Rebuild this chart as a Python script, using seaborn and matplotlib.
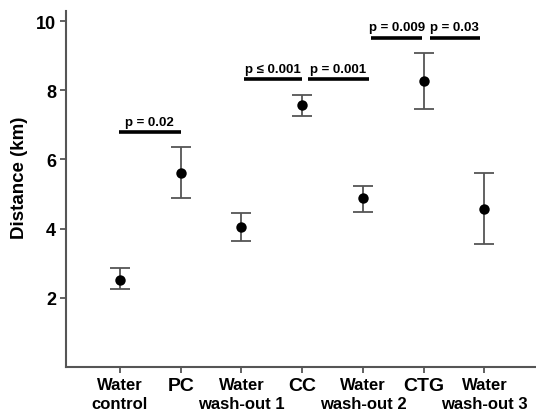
import matplotlib
matplotlib.use("Agg")
import matplotlib.pyplot as plt
import seaborn as sns
import pandas as pd
import numpy as np

categories = ["Water\ncontrol", "PC", "Water\nwash-out 1", "CC", "Water\nwash-out 2", "CTG", "Water\nwash-out 3"]
means = [2.53, 5.62, 4.04, 7.56, 4.89, 8.28, 4.58]
err_low = [2.26, 4.90, 3.63, 7.26, 4.48, 7.47, 3.56]
err_high = [2.86, 6.37, 4.45, 7.85, 5.24, 9.08, 5.60]

sig_start = [-0.02, 2.05, 3.09, 4.14, 5.10]
sig_end = [1.00, 3.00, 4.10, 4.97, 5.93]
sig_heights = [6.78, 8.32, 8.32, 9.52, 9.52]
sig_labels = ["p = 0.02", "p \u2264 0.001", "p = 0.001", "p = 0.009", "p = 0.03"]

sns.set_style("ticks")
plt.rcParams['font.family'] = ['Liberation Sans', 'DejaVu Sans']
plt.rcParams['font.weight'] = 'bold'
plt.rcParams['text.color'] = 'black'
plt.rcParams['axes.labelcolor'] = 'black'

df = pd.DataFrame({"group": categories, "mean": means})

fig = plt.figure(figsize=(5.36, 4.14), dpi=100)
ax = fig.add_axes([0.123, 0.111, 0.877, 0.86])

spine_col = "#555555"
xs = np.arange(len(categories))
ax.errorbar(xs, means,
            yerr=[np.array(means) - np.array(err_low), np.array(err_high) - np.array(means)],
            fmt='none', ecolor="#555555", elinewidth=1.3, capsize=7.5, capthick=1.3, zorder=2)
sns.stripplot(data=df, x="group", y="mean", jitter=False, color="black", size=7.5, ax=ax, zorder=3)

# significance bars
for xa, xb, h, lab in zip(sig_start, sig_end, sig_heights, sig_labels):
    ax.plot([xa, xb], [h, h], color="black", lw=2.6, solid_capstyle='butt', zorder=4)
    ax.text((xa + xb) / 2, h + 0.13, lab, ha='center', va='bottom', fontsize=9.5,
            fontweight='bold', color="black")

ax.set_xlim(-0.89, 6.85)
ax.set_ylim(0, 10.29)
ax.set_yticks([2, 4, 6, 8, 10])
ax.set_yticklabels(["2", "4", "6", "8", "10"], fontsize=13, fontweight='bold')
ax.set_xticks(xs)
ax.set_xticklabels(categories, fontsize=12, fontweight='bold', linespacing=1.3)
for lbl in ax.get_xticklabels():
    if "\n" not in lbl.get_text():
        lbl.set_fontsize(14)
ax.set_xlabel("")
ax.set_ylabel("Distance (km)", fontsize=13.5, fontweight='bold', color='black')
ax.yaxis.set_label_coords(-0.081, 0.534)

for s in ["top", "right"]:
    ax.spines[s].set_visible(False)
for s in ["left", "bottom"]:
    ax.spines[s].set_color(spine_col)
    ax.spines[s].set_linewidth(1.5)
ax.tick_params(axis='both', colors=spine_col, width=1.3, length=4, direction='out', labelcolor='black')
ax.tick_params(axis='x', pad=3.5)
ax.tick_params(axis='y', pad=3)

fig.savefig("out.png", dpi=100)
